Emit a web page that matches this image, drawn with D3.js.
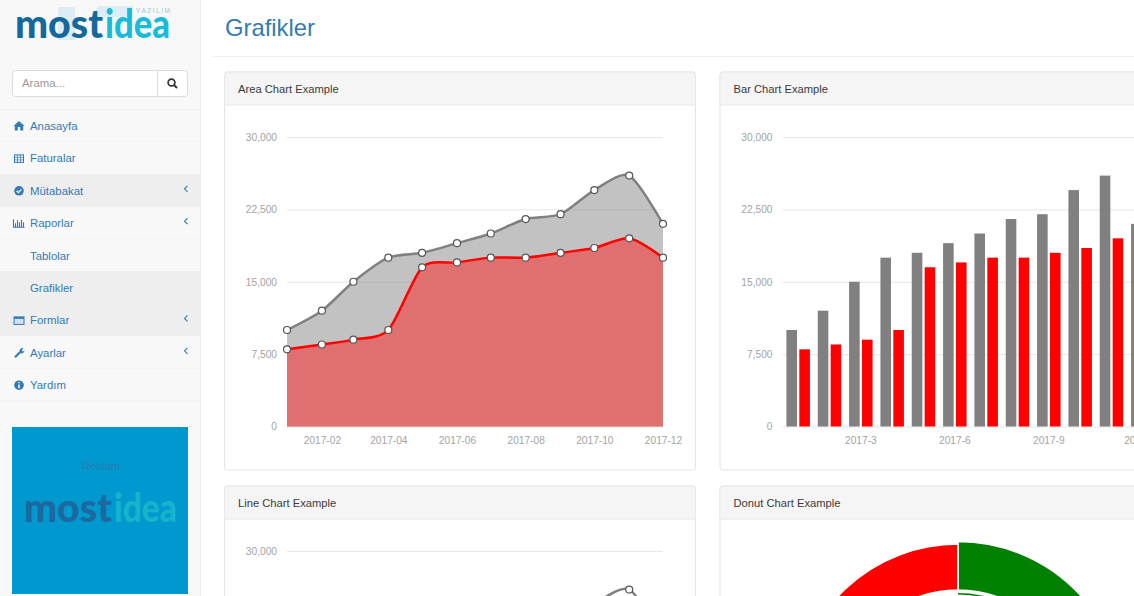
<!DOCTYPE html>
<html>
<head>
<meta charset="utf-8">
<script src="https://cdnjs.cloudflare.com/ajax/libs/d3/7.8.5/d3.min.js"></script>
<style>
html, body { margin: 0; padding: 0; background: #fff; overflow: hidden; }
svg { display: block; font-family: "Liberation Sans", Arial, sans-serif; }
.axis text { fill: #a3a3a3; font-size: 10.2px; font-family: "Liberation Sans", Arial, sans-serif; }
.axis path { display: none; }
.axis .tick line { stroke: #e6e6e6; }
</style>
</head>
<body>
<svg></svg>
<script>
// chart values
var months = ['2017-01', '2017-02', '2017-03', '2017-04', '2017-05', '2017-06', '2017-07', '2017-08', '2017-09', '2017-10', '2017-11', '2017-12'];
var barMonths = ['2017-1', '2017-2', '2017-3', '2017-4', '2017-5', '2017-6', '2017-7', '2017-8', '2017-9', '2017-10', '2017-11', '2017-12'];
var greyValues = [10000, 12000, 15000, 17500, 18000, 19000, 20000, 21500, 22000, 24500, 26000, 21000];
var redValues = [8000, 8500, 9000, 10000, 16500, 17000, 17500, 17500, 18000, 18500, 19500, 17500];
var yTicks = [0, 7500, 15000, 22500, 30000];
var areaLabels = ['2017-02', '2017-04', '2017-06', '2017-08', '2017-10', '2017-12'];
var barLabels = ['2017-3', '2017-6', '2017-9', '2017-12'];
var donutValues = [52, 48];
var menuLabels = ['Anasayfa', 'Faturalar', 'Mütabakat', 'Raporlar', 'Tablolar', 'Grafikler', 'Formlar', 'Ayarlar', 'Yardım'];
var menuIcons = ['home', 'table', 'check', 'bars', '', '', 'form', 'wrench', 'info'];
var menuArrows = [2, 3, 6, 7];
var menuShaded = [2, 5, 6];

var width = 1134,
	height = 596,
	sideWidth = 200,
	rowTop = 109.5,
	rowHeight = 32.4;

var parseMonth = d3.timeParse('%Y-%m');

var points = months.map(function(m, i) {
	return { date: parseMonth(m), grey: greyValues[i], red: redValues[i] };
});

var svg = d3.select('svg')
	.attr('width', width)
	.attr('height', height);

drawSidebar();

// page title
svg.append('text')
	.attr('x', 225)
	.attr('y', 35.5)
	.attr('fill', '#337ab7')
	.style('font-size', '23.8px')
	.text('Grafikler');

svg.append('line')
	.attr('x1', sideWidth + 12).attr('x2', width)
	.attr('y1', 56.5).attr('y2', 56.5)
	.attr('stroke', '#f0f0f0');

// cards
var areaCard = drawCard(224.5, 72, 'Area Chart Example');
var barCard = drawCard(720, 72, 'Bar Chart Example');
var lineCard = drawCard(224.5, 486, 'Line Chart Example');
var donutCard = drawCard(720, 486, 'Donut Chart Example');

drawTimeChart(areaCard, true);
drawBarChart(barCard);
drawTimeChart(lineCard, false);
drawDonut(donutCard);

function drawCard(x, y, title) {
	var w = x > 500 ? 476 : 471,
		h = 398;

	var g = svg.append('g').attr('transform', 'translate(' + x + ',' + y + ')');

	g.append('rect')
		.attr('width', w).attr('height', h)
		.attr('rx', 3)
		.attr('fill', '#fff')
		.attr('stroke', '#e4e4e4');

	g.append('path')
		.attr('d', 'M0,33V3A3,3 0 0 1 3,0H' + (w - 3) + 'A3,3 0 0 1 ' + w + ',3V33Z')
		.attr('fill', '#f5f5f5')
		.attr('stroke', '#e8e8e8');

	g.append('text')
		.attr('x', 13.5)
		.attr('y', 20.5)
		.attr('fill', '#3a3a3a')
		.style('font-size', '11.2px')
		.text(title);

	return g;
}

// y scale and grid are shared by all the cartesian charts
function makeY(g) {
	var yScale = d3.scaleLinear()
		.domain([0, 30000])
		.range([354.5, 65]);

	var yAxis = d3.axisLeft(yScale)
		.tickValues(yTicks)
		.tickFormat(d3.format(','))
		.tickSize(-376)
		.tickPadding(10);

	g.append('g')
		.attr('class', 'axis')
		.attr('transform', 'translate(62.5,0)')
		.call(yAxis);

	return yScale;
}

function drawTimeChart(g, filled) {
	var yScale = makeY(g);

	var xScale = d3.scaleTime()
		.domain(d3.extent(points, function(d) { return d.date; }))
		.range([62.5, 438.5]);

	var xAxis = d3.axisBottom(xScale)
		.tickValues(areaLabels.map(parseMonth))
		.tickFormat(d3.timeFormat('%Y-%m'))
		.tickSize(0)
		.tickPadding(10);

	g.append('g')
		.attr('class', 'axis')
		.attr('transform', 'translate(0,354.5)')
		.call(xAxis);

	var curve = d3.curveCardinal.tension(0.25);

	if (filled) {
		var greyArea = d3.area()
			.x(function(d) { return xScale(d.date); })
			.y0(yScale(0))
			.y1(function(d) { return yScale(d.grey); })
			.curve(curve);

		var redArea = d3.area()
			.x(function(d) { return xScale(d.date); })
			.y0(yScale(0))
			.y1(function(d) { return yScale(d.red); })
			.curve(curve);

		g.append('path').attr('d', greyArea(points)).attr('fill', 'gray').attr('fill-opacity', 0.48);
		g.append('path').attr('d', redArea(points)).attr('fill', '#e06f70');
	}

	['grey', 'red'].forEach(function(key) {
		var line = d3.line()
			.x(function(d) { return xScale(d.date); })
			.y(function(d) { return yScale(d[key]); })
			.curve(curve);

		g.append('path')
			.attr('d', line(points))
			.attr('fill', 'none')
			.attr('stroke', key === 'grey' ? 'gray' : 'red')
			.attr('stroke-width', 2.5);
	});

	['grey', 'red'].forEach(function(key) {
		g.selectAll('circle.' + key)
			.data(points)
			.enter()
			.append('circle')
				.attr('class', key)
				.attr('cx', function(d) { return xScale(d.date); })
				.attr('cy', function(d) { return yScale(d[key]); })
				.attr('r', 3.5)
				.attr('fill', '#fff')
				.attr('stroke', '#555')
				.attr('stroke-width', 1.2);
	});
}

function drawBarChart(g) {
	var yScale = makeY(g);

	var xScale = d3.scaleBand()
		.domain(barMonths)
		.range([62.5, 438.5])
		.paddingInner(0.25)
		.paddingOuter(0.125);

	var xInner = d3.scaleBand()
		.domain(['grey', 'red'])
		.range([0, xScale.bandwidth()])
		.paddingInner(0.18);

	var xAxis = d3.axisBottom(xScale)
		.tickValues(barLabels)
		.tickSize(0)
		.tickPadding(10);

	g.append('g')
		.attr('class', 'axis')
		.attr('transform', 'translate(0,354.5)')
		.call(xAxis);

	[['grey', greyValues, 'gray'], ['red', redValues, 'red']].forEach(function(s) {
		g.selectAll('rect.' + s[0])
			.data(s[1])
			.enter()
			.append('rect')
				.attr('class', s[0])
				.attr('x', function(d, i) { return xScale(barMonths[i]) + xInner(s[0]); })
				.attr('y', function(d) { return yScale(d); })
				.attr('width', xInner.bandwidth())
				.attr('height', function(d) { return yScale(0) - yScale(d); })
				.attr('fill', s[2]);
	});
}

function drawDonut(g) {
	var pie = d3.pie().sort(null)(donutValues);
	var centre = g.append('g').attr('transform', 'translate(238,222)');
	var colors = ['green', 'red'];
	var outer = [166.5, 164];

	centre.selectAll('path.slice')
		.data(pie)
		.enter()
		.append('path')
			.attr('class', 'slice')
			.attr('d', function(d, i) {
				return d3.arc().innerRadius(118).outerRadius(outer[i])(d);
			})
			.attr('fill', function(d, i) { return colors[i]; })
			.attr('stroke', '#fff')
			.attr('stroke-width', 1.6);

	// thin ring under the highlighted slice
	centre.append('path')
		.attr('d', d3.arc().innerRadius(113.5).outerRadius(115)(pie[0]))
		.attr('fill', 'green');
}

function drawSidebar() {
	svg.append('rect')
		.attr('width', sideWidth).attr('height', height)
		.attr('fill', '#f8f8f8');

	svg.append('line')
		.attr('x1', sideWidth + 0.5).attr('x2', sideWidth + 0.5)
		.attr('y1', 0).attr('y2', height)
		.attr('stroke', '#ececec');

	// pale squares behind the logo
	svg.append('rect').attr('x', 58).attr('y', 7).attr('width', 17).attr('height', 33).attr('fill', '#dcedf6');
	svg.append('rect').attr('x', 97).attr('y', 6).attr('width', 36).attr('height', 11).attr('fill', '#dcedf6');
	svg.append('text')
		.attr('x', 136).attr('y', 13)
		.attr('fill', '#93c6dd')
		.attr('textLength', 34)
		.style('font-size', '6.5px')
		.text('YAZILIM');

	drawLogo(15, 37.5, 88, 65, '#14689c', '#19bcd8');

	// search box
	svg.append('rect')
		.attr('x', 12.5).attr('y', 70.5)
		.attr('width', 175).attr('height', 26)
		.attr('rx', 3)
		.attr('fill', '#fff')
		.attr('stroke', '#dcdcdc');

	svg.append('line')
		.attr('x1', 157.5).attr('x2', 157.5)
		.attr('y1', 70.5).attr('y2', 96.5)
		.attr('stroke', '#dcdcdc');

	svg.append('text')
		.attr('x', 22).attr('y', 87)
		.attr('fill', '#999')
		.style('font-size', '11.4px')
		.text('Arama...');

	svg.append('circle')
		.attr('cx', 171.5).attr('cy', 82.5).attr('r', 3.4)
		.attr('fill', 'none').attr('stroke', '#333').attr('stroke-width', 1.7);

	svg.append('line')
		.attr('x1', 174).attr('y1', 85).attr('x2', 177).attr('y2', 88)
		.attr('stroke', '#333').attr('stroke-width', 2);

	// menu rows
	var rows = svg.selectAll('g.row')
		.data(menuLabels)
		.enter()
		.append('g')
			.attr('class', 'row')
			.attr('transform', function(d, i) { return 'translate(0,' + (rowTop + i * rowHeight) + ')'; });

	rows.append('rect')
		.attr('width', sideWidth).attr('height', rowHeight)
		.attr('fill', function(d, i) { return menuShaded.indexOf(i) > -1 ? '#eeeeee' : '#f8f8f8'; });

	rows.append('line')
		.attr('x1', 0).attr('x2', sideWidth)
		.attr('y1', rowHeight).attr('y2', rowHeight)
		.attr('stroke', '#efefef');

	rows.append('text')
		.attr('x', 30)
		.attr('y', 20.5)
		.attr('fill', '#337ab7')
		.style('font-size', '11.4px')
		.text(function(d) { return d; });

	rows.filter(function(d, i) { return menuArrows.indexOf(i) > -1; })
		.append('path')
			.attr('d', 'M187.5,11.5L184.5,14.5L187.5,17.5')
			.attr('fill', 'none')
			.attr('stroke', '#337ab7')
			.attr('stroke-width', 1.1);

	rows.each(function(d, i) {
		drawIcon(d3.select(this).append('g').attr('transform', 'translate(19,16.5)'), menuIcons[i]);
	});

	svg.append('line')
		.attr('x1', 0).attr('x2', sideWidth)
		.attr('y1', rowTop).attr('y2', rowTop)
		.attr('stroke', '#efefef');

	// banner
	svg.append('rect')
		.attr('x', 12).attr('y', 427)
		.attr('width', 176).attr('height', 167)
		.attr('fill', '#0099cf');

	svg.append('text')
		.attr('x', 101).attr('y', 470)
		.attr('text-anchor', 'middle')
		.attr('fill', '#2b78b4')
		.style('font-size', '11.4px')
		.text('Reklam');

	drawLogo(24, 521.5, 88, 63, '#1c689f', '#14b4cb');
}

function drawLogo(x, y, darkWidth, lightWidth, dark, light) {
	svg.append('text')
		.attr('x', x).attr('y', y)
		.attr('fill', dark)
		.attr('textLength', darkWidth)
		.attr('lengthAdjust', 'spacingAndGlyphs')
		.style('font-family', 'Lato')
		.style('font-weight', 900)
		.style('font-size', '40px')
		.text('most');

	svg.append('text')
		.attr('x', x + darkWidth + 2).attr('y', y)
		.attr('fill', light)
		.attr('textLength', lightWidth)
		.attr('lengthAdjust', 'spacingAndGlyphs')
		.style('font-family', 'Lato')
		.style('font-weight', 900)
		.style('font-size', '40px')
		.text('idea');
}

function drawIcon(g, name) {
	var c = '#337ab7';
	if (name === 'home') {
		g.append('path').attr('d', 'M-5.5,0L0,-5L5.5,0L4.2,0V4.4H1.2V1H-1.2V4.4H-4.2V0Z').attr('fill', c);
	} else if (name === 'table') {
		g.append('rect').attr('x', -4.5).attr('y', -3.5).attr('width', 9).attr('height', 7.5)
			.attr('fill', 'none').attr('stroke', c);
		g.append('path').attr('d', 'M-4.5,-1H4.5M-4.5,1.5H4.5M-1.5,-3.5V4M1.5,-3.5V4').attr('stroke', c).attr('stroke-width', 0.7);
	} else if (name === 'check') {
		g.append('circle').attr('r', 4.8).attr('fill', c);
		g.append('path').attr('d', 'M-2.4,0L-0.6,1.8L2.4,-1.4').attr('fill', 'none').attr('stroke', '#fff').attr('stroke-width', 1.3);
	} else if (name === 'bars') {
		g.append('path').attr('d', 'M-5.5,-4V4H5.5M-3.5,3.5V0M-1.5,3.5V-3M0.5,3.5V-1M2.5,3.5V-3.5M4.5,3.5V-1').attr('fill', 'none').attr('stroke', c).attr('stroke-width', 1.1);
	} else if (name === 'form') {
		g.append('rect').attr('x', -5.5).attr('y', -4).attr('width', 11).attr('height', 8.5).attr('fill', c);
		g.append('rect').attr('x', -4.5).attr('y', -1.5).attr('width', 9).attr('height', 5).attr('fill', '#cfe0ef');
	} else if (name === 'wrench') {
		g.append('path').attr('d', 'M-4,4.5L1.2,-0.8').attr('stroke', c).attr('stroke-width', 2.2);
		g.append('path').attr('d', 'M0.5,-1.2A3,3 0 0 1 4.5,-4.5L2.8,-2.5L4,-1L5.4,-2.6A3,3 0 0 1 1.5,0.5Z').attr('fill', c);
	} else if (name === 'info') {
		g.append('circle').attr('r', 4.8).attr('fill', c);
		g.append('path').attr('d', 'M0,-3.2V-2M0,-0.8V3').attr('stroke', '#fff').attr('stroke-width', 1.5);
	}
}
</script>
</body>
</html>
